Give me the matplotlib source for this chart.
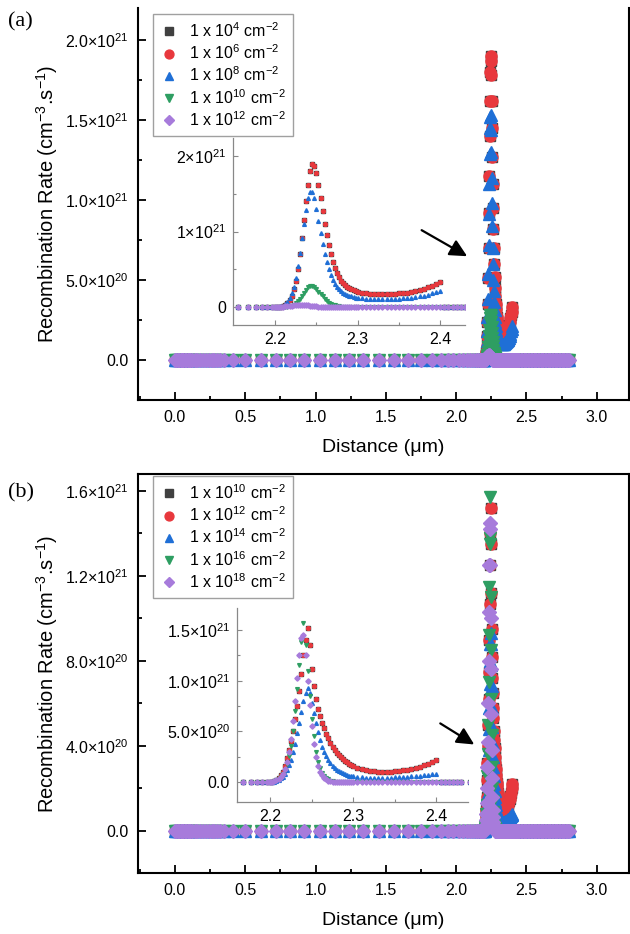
import numpy as np
import matplotlib
matplotlib.use("Agg")
import matplotlib.pyplot as plt
from matplotlib.ticker import FixedLocator, FixedFormatter, MultipleLocator

plt.rcParams['font.family'] = ['Liberation Sans', 'DejaVu Sans']
plt.rcParams['mathtext.fontset'] = 'custom'
plt.rcParams['mathtext.rm'] = 'Liberation Sans'
plt.rcParams['mathtext.it'] = 'Liberation Sans:italic'
plt.rcParams['mathtext.bf'] = 'Liberation Sans:bold'

# ---- data (rates in units of 1e21 cm^-3 s^-1, distance in um) ----
# baseline points, where every curve reads zero
distance_left = [0.0, 0.01, 0.02, 0.03, 0.04, 0.05, 0.06, 0.07, 0.08, 0.09, 0.10, 0.11,
                 0.12, 0.14, 0.16, 0.18, 0.20, 0.22, 0.24, 0.26, 0.28, 0.30, 0.32, 0.35,
                 0.41, 0.50, 0.61, 0.72, 0.82, 0.92, 1.03, 1.14, 1.24, 1.34, 1.45, 1.56,
                 1.66, 1.75, 1.83, 1.89, 1.94, 1.98, 2.02, 2.05, 2.08, 2.10, 2.12, 2.14,
                 2.155, 2.167, 2.177, 2.184, 2.19, 2.196]
distance_right = [2.405, 2.41, 2.415, 2.42, 2.425, 2.43, 2.44, 2.45, 2.46, 2.47, 2.48,
                  2.49, 2.50, 2.51, 2.52, 2.53, 2.54, 2.55, 2.56, 2.57, 2.58, 2.59, 2.60,
                  2.61, 2.62, 2.63, 2.64, 2.65, 2.66, 2.67, 2.68, 2.69, 2.70, 2.71, 2.72,
                  2.73, 2.74, 2.75, 2.76, 2.77, 2.78, 2.79, 2.80]

# junction region (curves are zero past the last value given)
distance_peak = [2.2000, 2.2025, 2.2050, 2.2075, 2.2100, 2.2125, 2.2150, 2.2175, 2.2200,
                 2.2225, 2.2250, 2.2275, 2.2300, 2.2325, 2.2350, 2.2375, 2.2400, 2.2425,
                 2.2450, 2.2475, 2.2500, 2.2525, 2.2550, 2.2575, 2.2600, 2.2625, 2.2650,
                 2.2675, 2.2700, 2.2725, 2.2750, 2.2775, 2.2800, 2.2825, 2.2850, 2.2875,
                 2.2900, 2.2925, 2.2950, 2.2975, 2.3000,
                 2.305, 2.310, 2.315, 2.320, 2.325, 2.330, 2.335, 2.340, 2.345, 2.350,
                 2.355, 2.360, 2.365, 2.370, 2.375, 2.380, 2.385, 2.390, 2.395, 2.400]

# panel (a)
rate_a_1e6 = [0.00, 0.00, 0.00, 0.005, 0.01, 0.03, 0.05, 0.09, 0.15, 0.24, 0.35, 0.51,
              0.70, 0.92, 1.15, 1.40, 1.62, 1.80, 1.90, 1.87, 1.78, 1.62, 1.45, 1.27,
              1.10, 0.95, 0.82, 0.70, 0.60, 0.52, 0.45, 0.40, 0.35, 0.32, 0.29, 0.27,
              0.25, 0.235, 0.22, 0.21, 0.20,
              0.19, 0.18, 0.175, 0.17, 0.17, 0.17, 0.17, 0.17, 0.175, 0.18,
              0.185, 0.19, 0.20, 0.21, 0.22, 0.24, 0.26, 0.28, 0.30, 0.33]
rate_a_1e4 = rate_a_1e6  # hidden under the 1e6 curve
rate_a_1e8 = [0.00, 0.00, 0.00, 0.01, 0.02, 0.04, 0.07, 0.12, 0.18, 0.27, 0.38, 0.54,
              0.72, 0.91, 1.10, 1.29, 1.45, 1.52, 1.53, 1.44, 1.30, 1.14, 0.98, 0.84,
              0.70, 0.60, 0.50, 0.43, 0.36, 0.31, 0.27, 0.24, 0.21, 0.19, 0.17, 0.16,
              0.15, 0.14, 0.13, 0.125, 0.12,
              0.115, 0.11, 0.105, 0.10, 0.10, 0.10, 0.10, 0.10, 0.105, 0.11,
              0.115, 0.12, 0.125, 0.13, 0.14, 0.15, 0.165, 0.18, 0.195, 0.21]
rate_a_1e10 = [0.00, 0.00, 0.00, 0.00, 0.00, 0.002, 0.005, 0.01, 0.02, 0.03, 0.05, 0.08,
               0.11, 0.15, 0.19, 0.23, 0.26, 0.28, 0.28, 0.265, 0.24, 0.205, 0.17, 0.14,
               0.11, 0.085, 0.06, 0.045, 0.03, 0.022, 0.015, 0.01, 0.005, 0.003]
rate_a_1e12 = [0.00, 0.002, 0.003, 0.005, 0.006, 0.008, 0.01, 0.014, 0.018, 0.022, 0.025,
               0.028, 0.03, 0.03, 0.028, 0.025, 0.022, 0.018, 0.015, 0.012, 0.01, 0.007,
               0.005, 0.004, 0.003]

# panel (b)
rate_b_1e12 = [0.00, 0.005, 0.01, 0.02, 0.04, 0.07, 0.10, 0.16, 0.24, 0.32, 0.40, 0.50,
               0.62, 0.75, 0.90, 1.07, 1.25, 1.40, 1.52, 1.35, 1.12, 0.95, 0.82, 0.72,
               0.65, 0.58, 0.53, 0.47, 0.43, 0.39, 0.35, 0.32, 0.29, 0.265, 0.245, 0.225,
               0.21, 0.195, 0.18, 0.17, 0.16,
               0.14, 0.13, 0.12, 0.11, 0.105, 0.10, 0.10, 0.10, 0.10, 0.105,
               0.11, 0.115, 0.12, 0.13, 0.14, 0.15, 0.165, 0.18, 0.20, 0.22]
rate_b_1e10 = rate_b_1e12  # hidden under the 1e12 curve
rate_b_1e14 = [0.00, 0.002, 0.005, 0.01, 0.02, 0.035, 0.05, 0.08, 0.12, 0.17, 0.22, 0.30,
               0.38, 0.48, 0.58, 0.69, 0.80, 0.88, 0.93, 0.88, 0.78, 0.68, 0.58, 0.49,
               0.41, 0.35, 0.30, 0.26, 0.22, 0.19, 0.16, 0.14, 0.12, 0.105, 0.095, 0.085,
               0.077, 0.07, 0.064, 0.06, 0.055,
               0.05, 0.045, 0.042, 0.04, 0.04, 0.04, 0.04, 0.04, 0.042, 0.045,
               0.047, 0.05, 0.052, 0.055, 0.058, 0.062, 0.066, 0.07, 0.075, 0.08]
rate_b_1e16 = [0.00, 0.005, 0.01, 0.02, 0.03, 0.05, 0.08, 0.12, 0.18, 0.26, 0.36, 0.50,
               0.70, 0.92, 1.15, 1.38, 1.57, 1.35, 1.10, 0.85, 0.62, 0.45, 0.30, 0.20,
               0.14, 0.09, 0.06, 0.04, 0.025, 0.015, 0.01, 0.005]
rate_b_1e18 = [0.00, 0.005, 0.01, 0.02, 0.03, 0.05, 0.08, 0.13, 0.20, 0.30, 0.42, 0.60,
               0.80, 1.03, 1.25, 1.42, 1.45, 1.25, 1.00, 0.76, 0.55, 0.38, 0.25, 0.16,
               0.10, 0.065, 0.04, 0.025, 0.015, 0.01, 0.005]

labels_a = [r"1 x 10$^{4}$ cm$^{-2}$", r"1 x 10$^{6}$ cm$^{-2}$", r"1 x 10$^{8}$ cm$^{-2}$",
            r"1 x 10$^{10}$ cm$^{-2}$", r"1 x 10$^{12}$ cm$^{-2}$"]
labels_b = [r"1 x 10$^{10}$ cm$^{-2}$", r"1 x 10$^{12}$ cm$^{-2}$", r"1 x 10$^{14}$ cm$^{-2}$",
            r"1 x 10$^{16}$ cm$^{-2}$", r"1 x 10$^{18}$ cm$^{-2}$"]

yticks_a = [0.0, 0.5e21, 1.0e21, 1.5e21, 2.0e21]
yticklabels_a = ["0.0", r"5.0×10$^{20}$", r"1.0×10$^{21}$", r"1.5×10$^{21}$", r"2.0×10$^{21}$"]
yticks_b = [0.0, 0.4e21, 0.8e21, 1.2e21, 1.6e21]
yticklabels_b = ["0.0", r"4.0×10$^{20}$", r"8.0×10$^{20}$", r"1.2×10$^{21}$", r"1.6×10$^{21}$"]
inset_yticks_a = [0.0, 1e21, 2e21]
inset_yticklabels_a = ["0", r"1×10$^{21}$", r"2×10$^{21}$"]
inset_yticks_b = [0.0, 0.5e21, 1.0e21, 1.5e21]
inset_yticklabels_b = ["0.0", r"5.0×10$^{20}$", r"1.0×10$^{21}$", r"1.5×10$^{21}$"]

colors = ["#404040", "#e8383d", "#1f6fd6", "#2e9e62", "#a77bdb"]
markers = ["s", "o", "^", "v", "D"]
msizes = [7.5, 8, 8, 8, 7]


def full_series(peak_vals):
    vals = list(peak_vals) + [0.0] * (len(distance_peak) - len(peak_vals))
    x = distance_left + distance_peak + distance_right
    y = [0.0] * len(distance_left) + vals + [0.0] * len(distance_right)
    return np.array(x), np.array(y) * 1e21


def style_main(ax, ylim, yticks, yticklabels, yminor):
    ax.set_xlim(-0.263, 3.229)
    ax.set_ylim(*ylim)
    ax.xaxis.set_major_locator(MultipleLocator(0.5))
    ax.xaxis.set_minor_locator(MultipleLocator(0.25))
    ax.xaxis.set_major_formatter(plt.FormatStrFormatter("%.1f"))
    ax.yaxis.set_major_locator(FixedLocator(yticks))
    ax.yaxis.set_major_formatter(FixedFormatter(yticklabels))
    ax.yaxis.set_minor_locator(MultipleLocator(yminor))
    ax.tick_params(which="both", direction="in", width=1.3, labelsize=11.5, top=False, right=False)
    ax.tick_params(which="major", length=6, pad=7)
    ax.tick_params(which="minor", length=3)
    for s in ax.spines.values():
        s.set_linewidth(1.5)
    ax.set_xlabel("Distance (μm)", fontsize=14, labelpad=10)
    ax.set_ylabel(r"Recombination Rate (cm$^{-3}$.s$^{-1}$)", fontsize=14.5)
    ax.yaxis.set_label_coords(-0.158, 0.5)


def style_inset(ax, xlim, ylim, yticks, yticklabels, yminor):
    ax.set_xlim(*xlim)
    ax.set_ylim(*ylim)
    ax.xaxis.set_major_locator(FixedLocator([2.2, 2.3, 2.4]))
    ax.xaxis.set_major_formatter(FixedFormatter(["2.2", "2.3", "2.4"]))
    ax.xaxis.set_minor_locator(FixedLocator([2.25, 2.35]))
    ax.yaxis.set_major_locator(FixedLocator(yticks))
    ax.yaxis.set_major_formatter(FixedFormatter(yticklabels))
    ax.yaxis.set_minor_locator(MultipleLocator(yminor))
    ax.tick_params(which="both", direction="in", width=0.8, color="#888888", labelsize=11.5)
    ax.tick_params(which="major", length=3.5, pad=5)
    ax.tick_params(which="minor", length=2)
    ax.spines["top"].set_visible(False)
    ax.spines["right"].set_visible(False)
    for side in ["left", "bottom"]:
        ax.spines[side].set_color("#888888")
        ax.spines[side].set_linewidth(0.9)
    ax.patch.set_alpha(0)


fig = plt.figure(figsize=(6.3, 9.34), dpi=100)
W, H = 630.0, 934.0


def fig_rect(left, top, right, bottom):
    return [left / W, 1 - bottom / H, (right - left) / W, (bottom - top) / H]


panels = [
    dict(series=[rate_a_1e4, rate_a_1e6, rate_a_1e8, rate_a_1e10, rate_a_1e12], labels=labels_a,
         main=(138, 8, 629, 400), ylim=(-0.25e21, 2.2e21), yticks=yticks_a, ytl=yticklabels_a, yminor=0.25e21,
         inset=(233, 138, 465, 325), ixlim=(2.149, 2.43), iylim=(-0.238e21, 2.24e21),
         iyticks=inset_yticks_a, iytl=inset_yticklabels_a, iyminor=0.5e21,
         legend=(153, 14), tag="(a)", tag_y=22, arrow=((1.737, 0.82e21), (2.095, 0.64e21)), top_spine=False),
    dict(series=[rate_b_1e10, rate_b_1e12, rate_b_1e14, rate_b_1e16, rate_b_1e18], labels=labels_b,
         main=(138, 474, 629, 873), ylim=(-0.198e21, 1.68e21), yticks=yticks_b, ytl=yticklabels_b, yminor=0.2e21,
         inset=(237, 608, 468, 802), ixlim=(2.16, 2.438), iylim=(-0.197e21, 1.717e21),
         iyticks=inset_yticks_b, iytl=inset_yticklabels_b, iyminor=0.25e21,
         legend=(153, 476), tag="(b)", tag_y=493, arrow=((1.87, 0.513e21), (2.145, 0.40e21)), top_spine=True),
]

for p in panels:
    ax = fig.add_axes(fig_rect(*p["main"]))
    handles = []
    for vals, lab, c, m, ms in zip(p["series"], p["labels"], colors, markers, msizes):
        x, y = full_series(vals)
        h, = ax.plot(x, y, ls="none", marker=m, ms=ms, color=c, mec=c, label=lab)
        handles.append(h)
    style_main(ax, p["ylim"], p["yticks"], p["ytl"], p["yminor"])
    ax.spines["top"].set_visible(p["top_spine"])
    ax.annotate("", xy=p["arrow"][1], xytext=p["arrow"][0],
                arrowprops=dict(arrowstyle="-|>", color="black", lw=1.6, mutation_scale=26))
    lx, ly = p["legend"]
    leg = ax.legend(handles=handles, loc="upper left", bbox_to_anchor=(lx / W, 1 - ly / H),
                    bbox_transform=fig.transFigure, borderaxespad=0, fontsize=11.5,
                    frameon=True, fancybox=False, edgecolor="#888888", handlelength=1.1,
                    handletextpad=0.7, labelspacing=0.22, borderpad=0.45, markerscale=0.8)
    leg.get_frame().set_linewidth(1.0)

    ins = fig.add_axes(fig_rect(*p["inset"]))
    for vals, c, m in zip(p["series"], colors, markers):
        x, y = full_series(vals)
        ins.plot(x, y, ls="none", marker=m, ms=2.7, color=c, mec=c)
    style_inset(ins, p["ixlim"], p["iylim"], p["iyticks"], p["iytl"], p["iyminor"])

    fig.text(8 / W, 1 - p["tag_y"] / H, p["tag"], family=["Liberation Serif", "DejaVu Serif"],
             fontsize=16, va="center", ha="left")

fig.savefig("out.png", dpi=100)
